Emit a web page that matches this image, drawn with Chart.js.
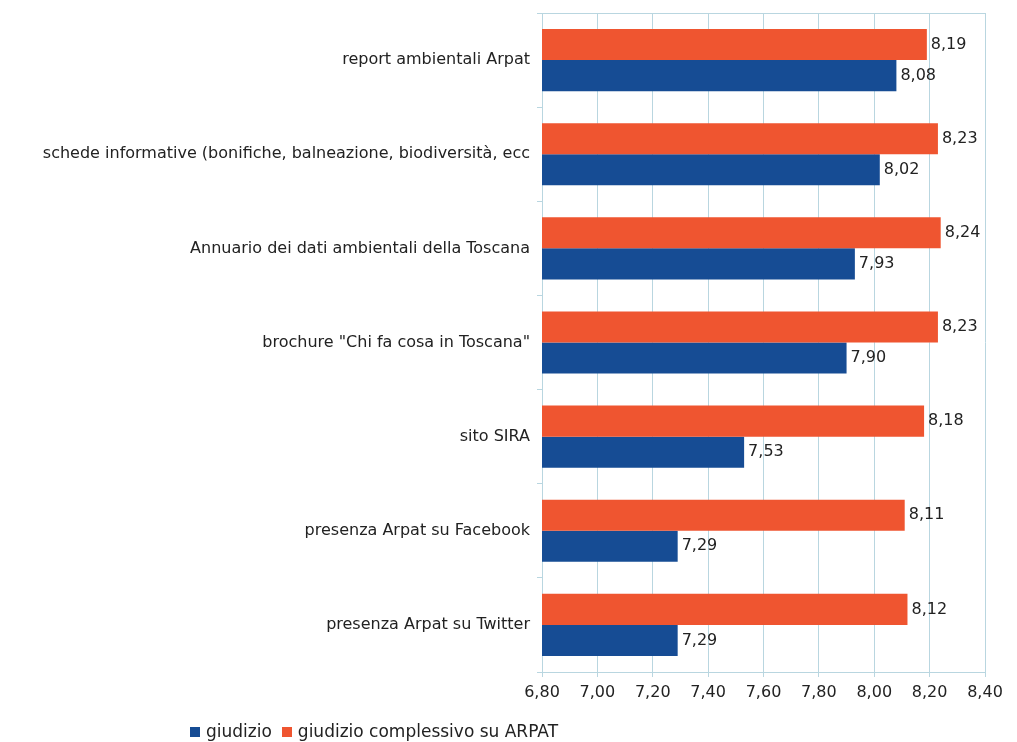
<!DOCTYPE html>
<html>
<head>
<meta charset="utf-8">
<script src="https://cdn.jsdelivr.net/npm/chart.js@4/dist/chart.umd.min.js"></script>
<style>
  html, body { margin: 0; padding: 0; background: #fff; }
  #wrap { position: relative; width: 1017px; height: 742px; }
  #myChart { display: block; }
  #legend { position: absolute; left: 190px; top: 721px; font: 17px "DejaVu Sans", sans-serif; color: #222; }
  #legend span.box { display: inline-block; width: 10px; height: 10px; margin-right: 6px; }
  #legend span.item { margin-right: 10px; }
</style>
</head>
<body>
<div id="wrap">
  <canvas id="myChart" width="1017" height="742"></canvas>
  <div id="legend"></div>
</div>
<script>
const categories = [
    'report ambientali Arpat',
    'schede informative (bonifiche, balneazione, biodiversità, ecc',
    'Annuario dei dati ambientali della Toscana',
    'brochure "Chi fa cosa in Toscana"',
    'sito SIRA',
    'presenza Arpat su Facebook',
    'presenza Arpat su Twitter'
];
const giudizio = [8.08, 8.02, 7.93, 7.90, 7.53, 7.29, 7.29];
const giudizioArpat = [8.19, 8.23, 8.24, 8.23, 8.18, 8.11, 8.12];
const xTicks = [6.8, 7.0, 7.2, 7.4, 7.6, 7.8, 8.0, 8.2, 8.4];

const BLUE = '#164c94';
const ORANGE = '#ef5530';
const GRID = '#b9d6e0';
const FONT = 'DejaVu Sans';

const fmt = v => v.toFixed(2).replace('.', ',');

// etichette dei valori a destra delle barre
const valueLabels = {
    id: 'valueLabels',
    afterDatasetsDraw(chart) {
        const ctx = chart.ctx;
        ctx.save();
        ctx.font = '16px "' + FONT + '"';
        ctx.fillStyle = '#222';
        ctx.textAlign = 'left';
        ctx.textBaseline = 'middle';
        chart.data.datasets.forEach((ds, i) => {
            chart.getDatasetMeta(i).data.forEach((bar, j) => {
                ctx.fillText(fmt(ds.data[j]), bar.x + 4, bar.y);
            });
        });
        ctx.restore();
    }
};

const chart = new Chart(document.getElementById('myChart'), {
    type: 'bar',
    data: {
        labels: categories,
        datasets: [
            { label: 'giudizio complessivo su ARPAT', data: giudizioArpat, backgroundColor: ORANGE },
            { label: 'giudizio', data: giudizio, backgroundColor: BLUE }
        ]
    },
    options: {
        indexAxis: 'y',
        responsive: false,
        animation: false,
        categoryPercentage: 0.66,
        barPercentage: 1.0,
        layout: { padding: { top: 13, right: 32, bottom: 40, left: 0 } },
        plugins: {
            legend: { display: false },
            tooltip: { enabled: false }
        },
        scales: {
            x: {
                min: 6.8,
                max: 8.4,
                afterBuildTicks: scale => { scale.ticks = xTicks.map(v => ({ value: v })); },
                afterFit: scale => { scale.height = 30; },
                ticks: {
                    callback: v => fmt(v),
                    color: '#222',
                    padding: 6,
                    font: { family: FONT, size: 16 }
                },
                grid: { color: GRID, tickLength: 5, tickColor: GRID },
                border: { color: GRID }
            },
            y: {
                afterFit: scale => {
                    scale.width = 542;
                    scale.paddingTop = 0;
                    scale.paddingBottom = 0;
                },
                ticks: {
                    color: '#222',
                    padding: 7,
                    font: { family: FONT, size: 16 }
                },
                grid: { drawOnChartArea: false, tickLength: 5, color: GRID },
                border: { color: GRID }
            }
        }
    },
    plugins: [valueLabels, {
        id: 'topLine',
        afterDraw(chart) {
            const a = chart.chartArea, ctx = chart.ctx;
            ctx.save();
            ctx.strokeStyle = GRID;
            ctx.lineWidth = 1;
            ctx.beginPath();
            ctx.moveTo(a.left, a.top + 0.5);
            ctx.lineTo(a.right, a.top + 0.5);
            ctx.stroke();
            ctx.restore();
        }
    }]
});

// legenda HTML: giudizio prima
const legendDOM = document.getElementById('legend');
let htmlData = '';
[chart.data.datasets[1], chart.data.datasets[0]].forEach(ds => {
    htmlData += `<span class="item"><span class="box" style="background:${ds.backgroundColor}"></span>${ds.label}</span>`;
});
legendDOM.innerHTML = htmlData;
</script>
</body>
</html>
